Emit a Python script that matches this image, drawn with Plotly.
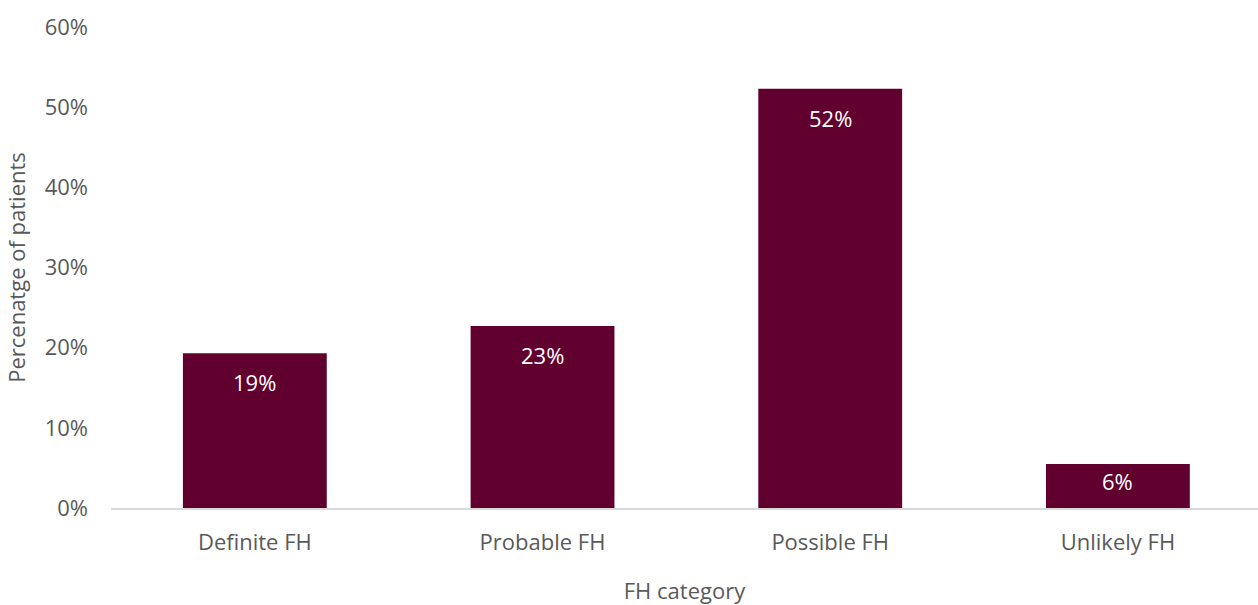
import plotly.graph_objects as go

categories = ["Definite FH", "Probable FH", "Possible FH", "Unlikely FH"]
values = [0.193, 0.227, 0.523, 0.055]
labels = ["19%", "23%", "52%", "6%"]

bar_color = "#61002F"
text_color = "#595959"
font_family = "Open Sans"
plot_h = 605 - 27 - 97
y_max = 0.6

fig = go.Figure()
fig.add_trace(go.Bar(
    x=categories, y=values, marker=dict(color=bar_color, line=dict(width=0)),
    width=0.5, hoverinfo="skip"
))

for c, v, t in zip(categories, values, labels):
    bar_px = v / y_max * plot_h
    shift = -29 if bar_px > 60 else -17
    fig.add_annotation(x=c, y=v, text=t, showarrow=False, yanchor="middle",
                       yshift=shift, font=dict(color="white", size=22, family=font_family))

fig.update_layout(
    width=1258, height=605,
    margin=dict(l=111, r=0, t=27, b=97),
    plot_bgcolor="white", paper_bgcolor="white",
    showlegend=False,
    font=dict(family=font_family, color=text_color, size=22),
    xaxis=dict(
        range=[-0.5, 3.487], showline=True, linecolor="#D9D9D9", linewidth=2,
        ticks="", ticklabelstandoff=14, showgrid=False,
        title=dict(text="FH category", standoff=31, font=dict(size=22)),
        tickfont=dict(size=22),
    ),
    yaxis=dict(
        range=[0, y_max], dtick=0.1, tickformat=".0%", showgrid=False,
        zeroline=False, ticks="", ticklabelstandoff=22,
        title=dict(text="Percenatge of patients", standoff=12, font=dict(size=22)),
        tickfont=dict(size=22),
    ),
)

fig.write_html("out.html")
